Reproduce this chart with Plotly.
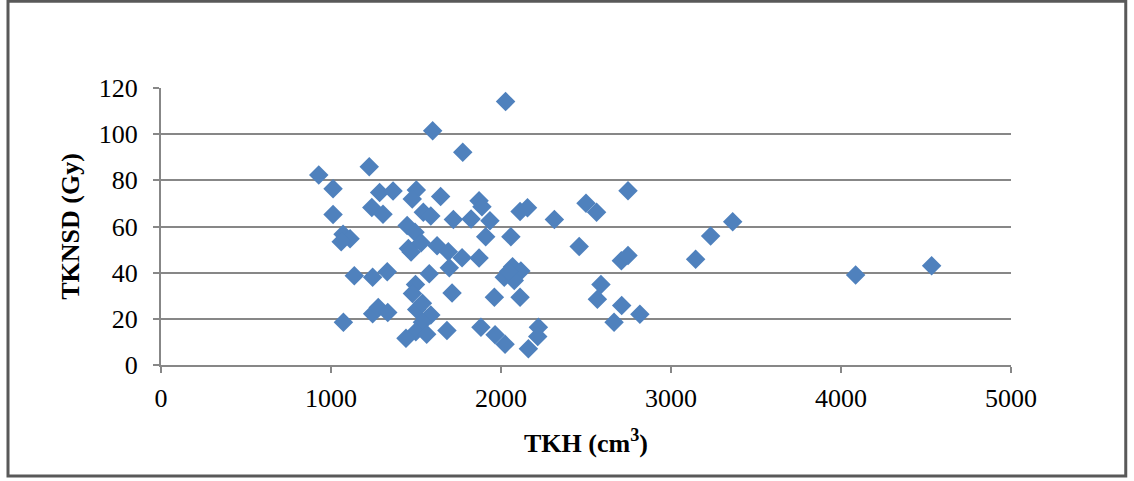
"""Scatter of TKNSD dose against TKH volume, Excel-style chart in a framed box."""

import plotly.graph_objects as go

# TKH volume (cm3) and TKNSD dose (Gy) per case
tkh_cm3 = [
    928, 1225, 1012, 1286, 1365, 1502, 1478, 1645, 1012, 1240,
    1306, 1543, 1587, 1720, 1775, 1598, 2027, 1448, 1494, 1071,
    1112, 1060, 1530, 1455, 1471, 1624, 1690, 1771, 1871, 1696,
    1137, 1245, 1331, 1578, 1497, 1479, 1712, 1073, 1245, 1278,
    1334, 1504, 1538, 1587, 1538, 1499, 1563, 1441, 1682, 1871,
    1888, 1824, 1935, 2112, 2156, 2314, 2500, 2562, 2747, 1910,
    2058, 2460, 2708, 2747, 3145, 3233, 3363, 4086, 4533, 2068,
    2117, 2019, 2078, 2045, 1961, 2112, 2588, 2567, 2710, 2817,
    2665, 1882, 1965, 2024, 2161, 2220, 2216,
]
tknsd_gy = [
    82.3, 85.9, 76.3, 74.7, 75.4, 75.8, 71.9, 73.0, 65.2, 68.2,
    65.3, 66.2, 64.5, 63.0, 92.2, 101.5, 114.1, 60.4, 57.5, 56.6,
    54.7, 53.4, 53.0, 50.5, 49.0, 51.7, 49.1, 46.5, 46.3, 42.1,
    38.7, 38.0, 40.4, 39.5, 34.9, 31.0, 31.2, 18.5, 22.2, 24.9,
    22.7, 24.0, 26.7, 21.7, 18.5, 14.4, 13.3, 11.6, 15.0, 71.2,
    68.6, 63.3, 62.5, 66.5, 68.1, 63.0, 70.1, 66.2, 75.5, 55.6,
    55.6, 51.3, 45.2, 47.4, 45.8, 55.9, 62.1, 39.0, 43.0, 42.6,
    40.7, 38.0, 36.6, 40.5, 29.4, 29.4, 34.9, 28.5, 25.8, 22.0,
    18.5, 16.4, 13.1, 9.0, 7.0, 16.4, 12.3,
]

x_ticks = [0, 1000, 2000, 3000, 4000, 5000]
y_ticks = [0, 20, 40, 60, 80, 100, 120]

SERIF = "Liberation Serif, Times New Roman, serif"
GRID = "#878787"

fig = go.Figure(
    go.Scatter(
        x=tkh_cm3,
        y=tknsd_gy,
        mode="markers",
        marker=dict(symbol="diamond", size=15, color="#4F81BD", line=dict(width=0)),
        hoverinfo="x+y",
    )
)

axis_common = dict(
    showline=True, linecolor=GRID, linewidth=2,
    gridcolor=GRID, gridwidth=2,
    ticks="outside", ticklen=6, tickwidth=2, tickcolor=GRID,
    tickfont=dict(family=SERIF, size=26, color="black"),
    zeroline=False,
)

fig.update_xaxes(
    range=[0, 5000], tickvals=x_ticks, showgrid=False,
    ticklabelstandoff=3,
    title=dict(text="<b>TKH (cm<sup>3</sup>)</b>", font=dict(family=SERIF, size=26, color="black"), standoff=22),
    **axis_common,
)
fig.update_yaxes(
    range=[0, 120], tickvals=y_ticks, showgrid=True,
    ticklabelstandoff=10,
    title=dict(text="<b>TKNSD (Gy)</b>", font=dict(family=SERIF, size=26, color="black"), standoff=12),
    **axis_common,
)

# outer frame round the whole chart, as in the spreadsheet export
fig.add_shape(
    type="rect", xref="paper", yref="paper",
    x0=-0.180, x1=1.135, y0=-0.401, y1=1.313,
    line=dict(color="#595959", width=3), fillcolor="rgba(0,0,0,0)",
)

fig.update_layout(
    width=1134, height=481,
    margin=dict(l=161, r=123, t=88, b=116),
    paper_bgcolor="white", plot_bgcolor="white",
    showlegend=False,
)

# the page body has a default 8px margin; drop it so the chart sits at 0,0
fig.write_html(
    "out.html",
    config={"displayModeBar": False},
    post_script="document.body.style.margin='0';",
)
